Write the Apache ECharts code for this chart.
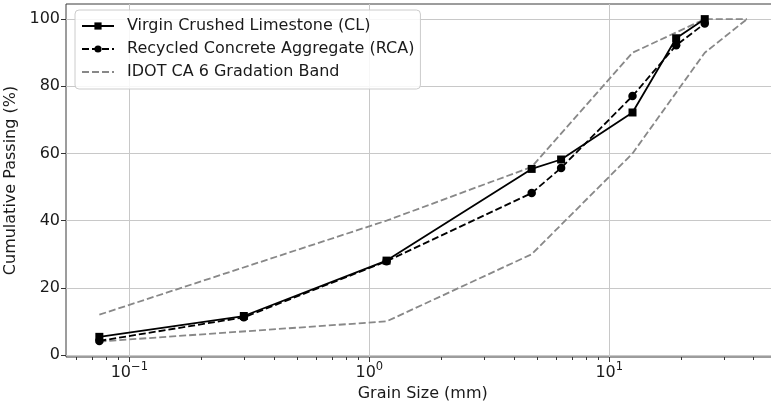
<!DOCTYPE html>
<html>
<head>
<meta charset="utf-8">
<script src="https://cdn.jsdelivr.net/npm/echarts@6/dist/echarts.min.js"></script>
<style>
  html, body { margin: 0; padding: 0; background: #fff; }
  #chart { width: 771px; height: 404px; }
</style>
</head>
<body>
<div id="chart"></div>
<script>
// sieve sizes (mm) and percent passing
var sieveSizes = [0.075, 0.3, 1.18, 4.75, 6.3, 12.5, 19, 25];
var clPassing = [5.4, 11.6, 28.1, 55.4, 58.2, 72.2, 94.3, 100];
var rcaPassing = [4.2, 11.2, 27.9, 48.2, 55.7, 77.1, 92.2, 98.7];

// IDOT CA 6 band
var bandSizes = [0.075, 1.18, 4.75, 12.5, 25, 37.5];
var bandUpper = [12, 40, 56, 90, 100, 100];
var bandLower = [4, 10, 30, 60, 90, 100];

var xMajorTicks = [0.1, 1, 10];
var xMinorTicks = [0.06, 0.07, 0.08, 0.09, 0.2, 0.3, 0.4, 0.5, 0.6, 0.7, 0.8, 0.9,
  2, 3, 4, 5, 6, 7, 8, 9, 20, 30, 40, 50];
var yTicks = [0, 20, 40, 60, 80, 100];

var legendNames = ['Virgin Crushed Limestone (CL)', 'Recycled Concrete Aggregate (RCA)', 'IDOT CA 6 Gradation Band'];

function pairs(xs, ys) {
  return xs.map(function (x, i) { return [x, ys[i]]; });
}

function powLabel(v) {
  var e = Math.round(Math.log10(v));
  var s = e < 0 ? '\u2212' + (-e) : String(e);
  return '{b|10}{s|' + s + '}';
}

var font = 'DejaVu Sans';
var textColor = '#1a1a1a';
var bandColor = '#888888';
var dash = [7, 3];

var chart = echarts.init(document.getElementById('chart'), null, { renderer: 'canvas' });

chart.setOption({
  animation: false,
  backgroundColor: '#ffffff',
  grid: {
    left: 66, top: 4, right: -8.4, bottom: 47,
    containLabel: false, outerBoundsMode: 'none',
    show: true, borderColor: '#3a3a3a', borderWidth: 1, backgroundColor: 'transparent'
  },
  legend: {
    data: [
      legendNames[0],
      legendNames[1],
      { name: legendNames[2], itemStyle: { color: 'rgba(0,0,0,0)', borderWidth: 0, opacity: 0 } }
    ],
    orient: 'vertical',
    left: 75, top: 10,
    itemWidth: 32, itemHeight: 9, itemGap: 7,
    padding: [8, 6, 9, 6],
    backgroundColor: 'rgba(255,255,255,0.85)',
    borderColor: '#cccccc', borderWidth: 1, borderRadius: 4,
    textStyle: { fontFamily: font, fontSize: 16, color: textColor, padding: [0, 0, 0, 8] }
  },
  xAxis: [{
    type: 'log', logBase: 10,
    min: 0.05446, max: 51.17,
    name: 'Grain Size (mm)', nameLocation: 'middle', nameGap: 27,
    nameTextStyle: { fontFamily: font, fontSize: 16, color: textColor },
    axisLine: { show: false, onZero: false },
    axisTick: { show: true, customValues: xMajorTicks, length: 5, lineStyle: { color: '#333', width: 1 } },
    axisLabel: {
      customValues: xMajorTicks, margin: 4,
      fontFamily: font, fontSize: 16, color: textColor,
      formatter: powLabel,
      rich: {
        b: { fontFamily: font, fontSize: 16, color: textColor, lineHeight: 20, verticalAlign: 'bottom' },
        s: { fontFamily: font, fontSize: 11.5, color: textColor, lineHeight: 20, verticalAlign: 'top' }
      }
    },
    splitLine: { show: true, lineStyle: { color: '#c8c8c8', width: 1 } }
  }, {
    type: 'log', logBase: 10, gridIndex: 0, position: 'bottom',
    min: 0.05446, max: 51.17,
    axisLine: { show: false, onZero: false },
    axisTick: { show: true, customValues: xMinorTicks, length: 3, lineStyle: { color: '#333', width: 1 } },
    axisLabel: { show: false },
    splitLine: { show: false }
  }],
  yAxis: {
    type: 'value',
    min: -0.6, max: 104.5, interval: 20,
    name: 'Cumulative Passing (%)', nameLocation: 'middle', nameGap: 32,
    nameTextStyle: { fontFamily: font, fontSize: 16, color: textColor },
    axisLine: { show: false, onZero: false },
    axisTick: { show: true, customValues: yTicks, length: 5, lineStyle: { color: '#333', width: 1 } },
    axisLabel: {
      customValues: yTicks, margin: 6,
      fontFamily: font, fontSize: 16, color: textColor
    },
    splitLine: { show: true, lineStyle: { color: '#c8c8c8', width: 1 } }
  },
  series: [{
    name: legendNames[2], type: 'line',
    data: pairs(bandSizes, bandUpper),
    symbol: 'none', z: 2,
    lineStyle: { color: bandColor, width: 1.8, type: dash },
    itemStyle: { color: 'rgba(0,0,0,0)' }
  }, {
    name: legendNames[2], type: 'line',
    data: pairs(bandSizes, bandLower),
    symbol: 'none', z: 2,
    lineStyle: { color: bandColor, width: 1.8, type: dash },
    itemStyle: { color: 'rgba(0,0,0,0)' }
  }, {
    name: legendNames[1], type: 'line',
    data: pairs(sieveSizes, rcaPassing),
    symbol: 'circle', symbolSize: 8.5, z: 3,
    lineStyle: { color: '#000', width: 1.8, type: dash },
    itemStyle: { color: '#000' }
  }, {
    name: legendNames[0], type: 'line',
    data: pairs(sieveSizes, clPassing),
    symbol: 'rect', symbolSize: 8, z: 4,
    lineStyle: { color: '#000', width: 1.8 },
    itemStyle: { color: '#000' }
  }]
});
</script>
</body>
</html>
